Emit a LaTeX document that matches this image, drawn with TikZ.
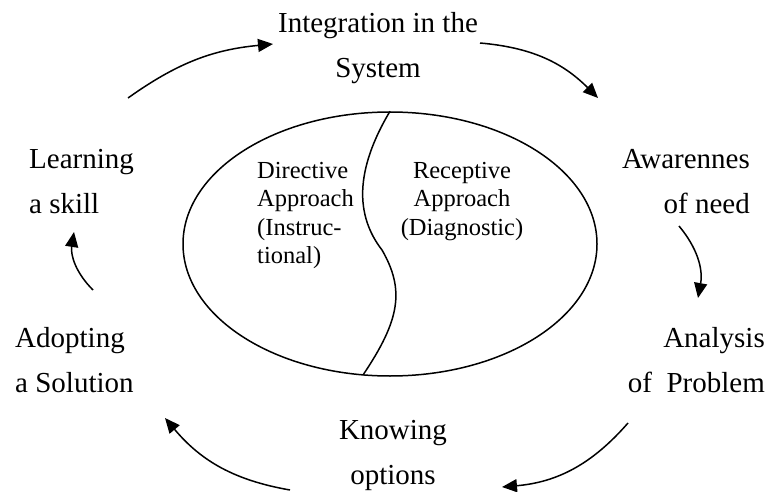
\documentclass[tikz,border=0pt]{standalone}
\usepackage{fontspec}
\setmainfont{Liberation Serif}
\usetikzlibrary{arrows.meta,shapes.geometric}
\begin{document}
\begin{tikzpicture}[x=1pt,y=-1pt,
    stage/.style={inner sep=0pt,font=\fontsize{29}{45}\selectfont},
    approach/.style={inner sep=0pt,font=\fontsize{24.5}{28.5}\selectfont},
    flow/.style={-{Triangle[length=15pt,width=13pt]},line width=1.5pt}]
      \useasboundingbox (0,0) rectangle (768,492);
      \node[draw,ellipse,line width=1.5pt,inner sep=0pt,
        minimum width=414pt,minimum height=264pt] (lens) at (390,244) {};
      \draw[line width=1.5pt] (lens.north)
        .. controls (355,170) and (355,215) .. (382,250)
        .. controls (405,290) and (400,320) .. (363,375);
      % multi-line nodes: base is the last line
      \draw
        (257,263.5) node[approach,align=left,anchor=base west] (dir){Directive\\Approach\\(Instruc-\\tional)}
        (462,235) node[approach,align=center,anchor=base] (rec){Receptive\\Approach\\(Diagnostic)};
      \draw
        (378,78) node[stage,align=center,anchor=base] (integ){Integration in the\\System}
        (750,213) node[stage,align=right,anchor=base east] (aware){Awarennes\\of need}
        (765,392) node[stage,align=right,anchor=base east] (anal){Analysis\\of\ \ Problem}
        (393,484) node[stage,align=center,anchor=base] (know){Knowing\\options}
        (15,392) node[stage,align=left,anchor=base west] (adopt){Adopting\\a Solution}
        (29,213) node[stage,align=left,anchor=base west] (learn){Learning\\a skill};
      \coordinate (learn-out) at (128,98);
      \coordinate (integ-in) at (273,44);
      \coordinate (integ-out) at (480,43);
      \coordinate (aware-in) at (598,98);
      \coordinate (aware-out) at (679,226);
      \coordinate (anal-in) at (698,298);
      \coordinate (anal-out) at (628,423);
      \coordinate (know-in) at (502,487);
      \coordinate (know-out) at (290,490);
      \coordinate (adopt-in) at (165,418);
      \coordinate (adopt-out) at (93,290);
      \coordinate (learn-in) at (74,232);
      \begin{scope}[flow]
        \draw (learn-out) to[bend left=15] (integ-in);
        \draw (integ-out) to[bend left=20] (aware-in);
        \draw (aware-out) to[bend left=25] (anal-in);
        \draw (anal-out) to[bend left=22] (know-in);
        \draw (know-out) to[bend left=20] (adopt-in);
        \draw (adopt-out) to[bend left=27] (learn-in);
      \end{scope}
    \end{tikzpicture}
\end{document}
